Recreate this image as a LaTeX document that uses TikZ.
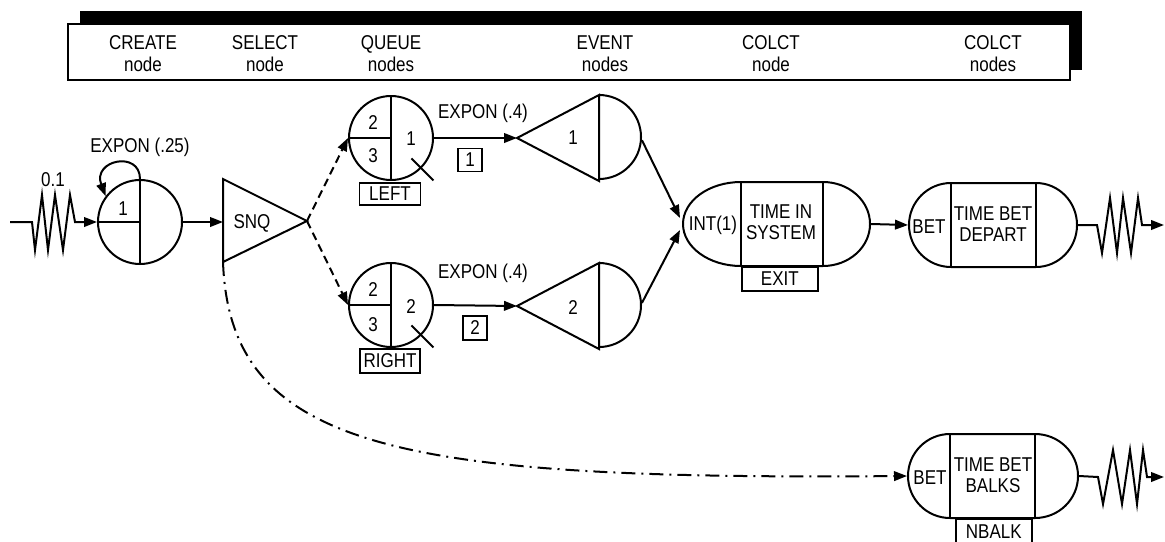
\documentclass[tikz,border=0pt]{standalone}
\usepackage{fontspec}
\setmainfont{Liberation Sans}[FakeStretch=0.85]
\usetikzlibrary{arrows.meta,calc}
\begin{document}
\begin{tikzpicture}[x=0.5pt,y=-0.5pt,
  line width=1pt,
  font=\fontsize{10pt}{11pt}\selectfont,
  arr/.style={-{Triangle[length=6.5pt,width=4.8pt]}},
  ring/.style={circle,draw,minimum size=42pt,inner sep=0pt},
  hole/.style={circle,minimum size=42pt,inner sep=0pt},
  lbl/.style={inner sep=0pt},
  two/.style={inner sep=0pt,align=center,font=\fontsize{10pt}{10.5pt}\selectfont},
  tag/.style={draw,inner sep=0pt,line width=0.8pt},
  hdr/.style={inner sep=0pt,align=center},
  dsh/.style={dash pattern=on 4pt off 2.5pt}
]
\useasboundingbox (0,0) rectangle (1165,541);

% header
\fill (80,11) rectangle (1082,70);
\draw[fill=white,line width=0.8pt] (68,24) rectangle (1070,80);
\node[hdr] (hcreate) at (143,53.5) {CREATE\\node};
\node[hdr] (hselect) at (265,53.5) {SELECT\\node};
\node[hdr] (hqueue)  at (391,53.5) {QUEUE\\nodes};
\node[hdr] (hevent)  at (605,53.5) {EVENT\\nodes};
\node[hdr] (hcolct)  at (771,53.5) {COLCT\\node};
\node[hdr] (hcolcts) at (993,53.5) {COLCT\\nodes};

% create node
\node[ring] (create) at (140,222) {};
\draw (create.north) -- (create.south);
\draw (create.west) -- (create.center);
\node[lbl] (createlab) at (123,209) {1};
\coordinate (src) at (10,222);
\draw[arr] (src) -- (32,222) -- (35,250) -- (42,195) -- (48,250) -- (55,195) -- (63,250) -- (70,195) -- (75,222) -- (create.west);
\node[lbl] (rate) at (53,180) {0.1};
\node[lbl] (expon1) at (140,147) {EXPON (.25)};
\draw[arr] (create.north) .. controls (140,150) and (92,160) .. (create.143);

% select node
\coordinate (snqA) at (223,179);
\coordinate (snqB) at (223,262);
\coordinate (snqtip) at (307,221);
\coordinate (snqin) at (223,222);
\draw (snqA) -- (snqtip) -- (snqB) -- cycle;
\node[lbl] (snq) at (252,223) {SNQ};
\draw[arr] (create.east) -- (snqin);

% queue nodes
\node[ring] (q1) at (391,138) {};
\node[ring] (q2) at (391,305) {};
\foreach \q in {q1,q2}{
  \draw (\q.north) -- (\q.south);
  \draw (\q.west) -- (\q.center);
  \draw ($(\q.-45)+(-10,-10)$) -- ($(\q.-45)+(12,12)$);
}
\node[lbl] (q1a) at (373,123) {2};
\node[lbl] (q1b) at (373,156) {3};
\node[lbl] (q1c) at (411,139) {1};
\node[lbl] (q2a) at (373,290) {2};
\node[lbl] (q2b) at (373,325) {3};
\node[lbl] (q2c) at (411,307) {2};
\node[tag,minimum width=30.5pt,minimum height=11pt,anchor=north] (qleft) at (390,182) {LEFT};
\node[tag,minimum width=30pt,minimum height=12pt,anchor=north] (qright) at (390,348) {RIGHT};
\draw[arr,dsh] (snqtip) -- (q1.west);
\draw[arr,dsh] (snqtip) -- (q2.west);

% event nodes
\node[hole] (ev1) at (599,138) {};
\node[hole] (ev2) at (599,306) {};
\coordinate (ev1tip) at (517,138);
\coordinate (ev2tip) at (517,306);
\draw (ev1tip) -- (ev1.north) -- (ev1.south) -- cycle;
\draw (ev1.north) arc[start angle=90,end angle=-90,radius=21pt];
\draw (ev2tip) -- (ev2.north) -- (ev2.south) -- cycle;
\draw (ev2.north) arc[start angle=90,end angle=-90,radius=21pt];
\node[lbl] (ev1lab) at (573,138) {1};
\node[lbl] (ev2lab) at (573,308) {2};
\draw[arr] (q1.east) -- (ev1tip);
\draw[arr] (q2.east) -- (ev2tip);
\node[lbl] (expon2) at (483,113) {EXPON (.4)};
\node[lbl] (expon3) at (483,273) {EXPON (.4)};
\node[tag,minimum width=12pt,minimum height=11.5pt] (box1) at (470,160) {1};
\node[tag,minimum width=12pt,minimum height=12pt] (box2) at (475,328) {2};

% colct node 1
\node[minimum width=93.5pt,minimum height=42pt,inner sep=0pt] (c1) at (776.5,224) {};
\draw (741,182) -- (823,182) arc[start angle=90,end angle=-90,x radius=23.5pt,y radius=21pt]
  -- (741,266) arc[start angle=-90,end angle=-270,x radius=29pt,y radius=21pt] -- cycle;
\draw (741,182) -- (741,266);
\draw (823,182) -- (823,266);
\node[lbl] (c1a) at (713,225) {INT(1)};
\node[two] (c1b) at (781,222.5) {TIME IN\\SYSTEM};
\node[tag,minimum width=38pt,minimum height=12pt,anchor=north west] (exit) at (741,266) {EXIT};
\draw[arr] (ev1.-3) -- ($(c1.west)+(-2,-6)$);
\draw[arr] (ev2.4) -- ($(c1.west)+(-2,6)$);

% colct node 2
\node[minimum width=84pt,minimum height=42pt,inner sep=0pt] (c2) at (993,225) {};
\draw (951,183) -- (1036,183) arc[start angle=90,end angle=-90,x radius=20.5pt,y radius=21pt]
  -- (951,267) arc[start angle=-90,end angle=-270,x radius=21pt,y radius=21pt] -- cycle;
\draw (951,183) -- (951,267);
\draw (1036,183) -- (1036,267);
\node[lbl] (c2a) at (929,227) {BET};
\node[two] (c2b) at (993,224) {TIME BET\\DEPART};
\draw[arr] (c1.east) -- (c2.west);
\coordinate (out1) at (1164,225);
\draw[arr] (c2.east) -- (1097,225) -- (1102,253) -- (1110,198) -- (1117,253) -- (1123,198) -- (1131,253) -- (1138,198) -- (1142,225) -- (out1);

% colct node 3
\node[minimum width=85pt,minimum height=42pt,inner sep=0pt] (c3) at (993,476) {};
\draw (950,434) -- (1035,434) arc[start angle=90,end angle=-90,x radius=21.5pt,y radius=21pt]
  -- (950,518) arc[start angle=-90,end angle=-270,x radius=21pt,y radius=21pt] -- cycle;
\draw (950,434) -- (950,518);
\draw (1035,434) -- (1035,518);
\node[lbl] (c3a) at (930,478) {BET};
\node[two] (c3b) at (993,475) {TIME BET\\BALKS};
\node[tag,minimum width=38pt,minimum height=13pt,anchor=north west] (nbalk) at (955,518) {NBALK};
\coordinate (out2) at (1164,477);
\draw[arr] (c3.east) -- (1098,477) -- (1103,504) -- (1113,450) -- (1122,504) -- (1130,450) -- (1137,504) -- (1143,450) -- (1147,477) -- (out2);

% balking path
\draw[arr,dash pattern=on 7pt off 3pt on 1pt off 3pt] (snqB) .. controls (230,450) and (400,480) .. (c3.west);
\end{tikzpicture}
\end{document}
